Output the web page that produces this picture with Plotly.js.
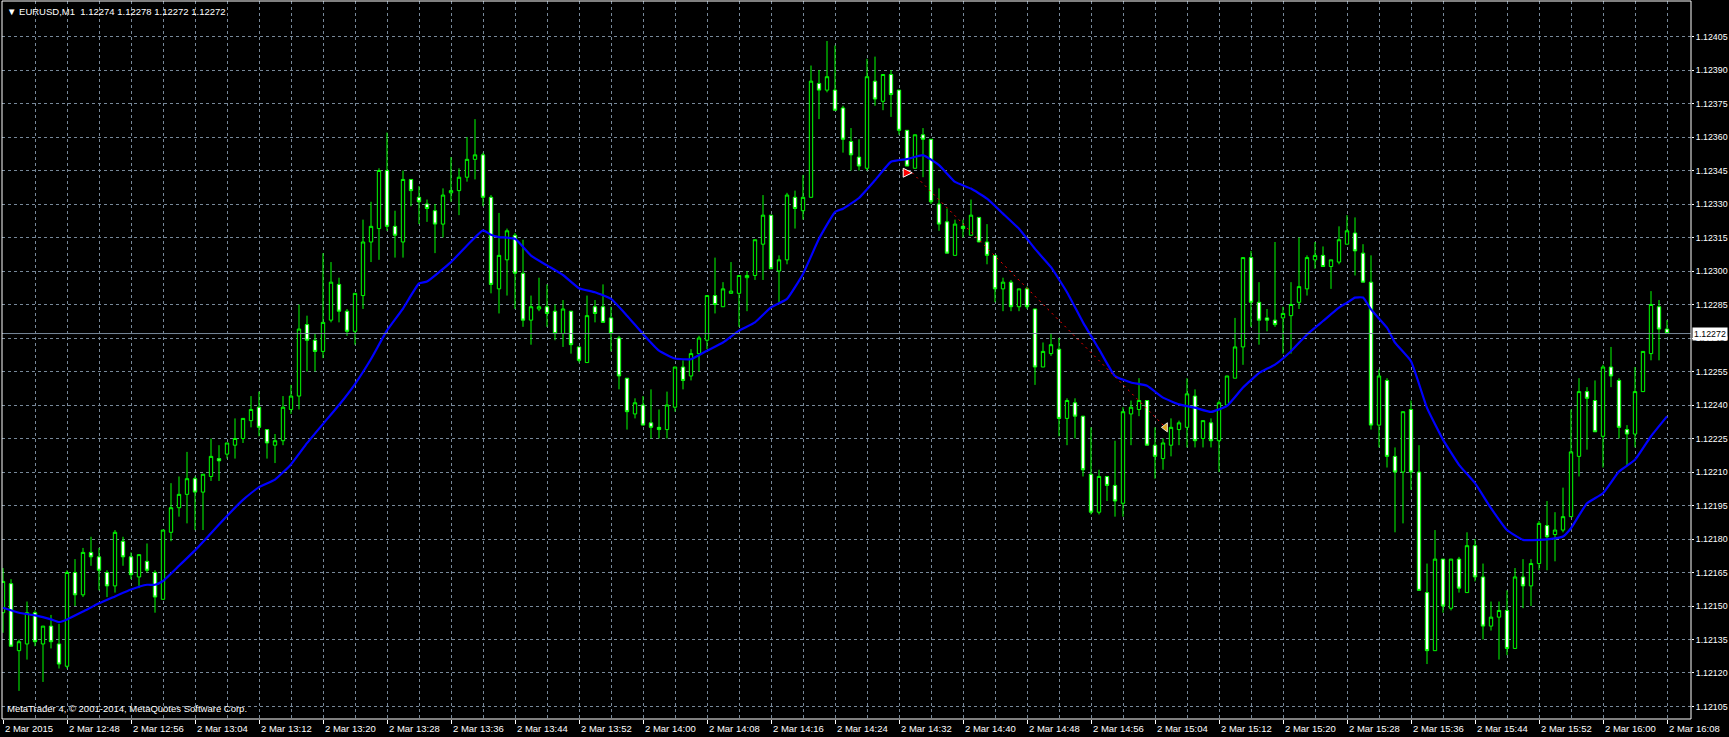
<!DOCTYPE html>
<html>
<head>
<meta charset="utf-8">
<script src="https://cdn.plot.ly/plotly-3.0.1.min.js"></script>
<style>
html,body{margin:0;padding:0;background:#000;overflow:hidden}
#chart{width:1729px;height:737px}
</style>
</head>
<body>
<div id="chart"></div>
<script>
// ---------------- DATA ----------------
const symbolName = "EURUSD,M1";
const lastQuote = ["1.12274", "1.12278", "1.12272", "1.12272"];
const copyrightText = "MetaTrader 4, © 2001-2014, MetaQuotes Software Corp.";
const currentPrice = 1.12272;

// one-minute bars from 2 Mar 2015 12:40 to 16:08
const openPrice = [
1.12147,1.12160,1.12130,1.12133,1.12147,1.12133,1.12141,1.12133,1.12123,1.12165,
1.12155,1.12174,1.12172,1.12165,1.12159,1.12179,1.12172,1.12163,1.12170,1.12165,
1.12153,1.12183,1.12194,1.12200,1.12207,1.12201,1.12208,1.12216,1.12218,1.12222,
1.12225,1.12233,1.12239,1.12229,1.12222,1.12224,1.12238,1.12244,1.12276,1.12269,
1.12264,1.12278,1.12294,1.12282,1.12273,1.12289,1.12313,1.12319,1.12345,1.12320,
1.12313,1.12341,1.12333,1.12330,1.12327,1.12321,1.12335,1.12336,1.12342,1.12350,
1.12352,1.12333,1.12292,1.12305,1.12316,1.12299,1.12278,1.12283,1.12284,1.12282,
1.12272,1.12282,1.12266,1.12259,1.12284,1.12284,1.12279,1.12270,1.12252,1.12236,
1.12240,1.12232,1.12230,1.12229,1.12239,1.12257,1.12253,1.12263,1.12269,1.12289,
1.12284,1.12290,1.12290,1.12297,1.12298,1.12312,1.12325,1.12300,1.12305,1.12333,
1.12327,1.12333,1.12384,1.12381,1.12381,1.12373,1.12358,1.12351,1.12346,1.12385,
1.12376,1.12388,1.12381,1.12363,1.12346,1.12361,1.12359,1.12330,1.12322,1.12307,
1.12320,1.12316,1.12324,1.12313,1.12307,1.12292,1.12295,1.12284,1.12292,1.12283,
1.12257,1.12263,1.12265,1.12234,1.12241,1.12235,1.12209,1.12192,1.12208,1.12204,
1.12196,1.12236,1.12238,1.12242,1.12222,1.12216,1.12222,1.12229,1.12230,1.12244,
1.12225,1.12232,1.12224,1.12240,1.12252,1.12266,1.12306,1.12286,1.12279,1.12278,
1.12279,1.12280,1.12286,1.12292,1.12305,1.12307,1.12302,1.12304,1.12312,1.12317,
1.12308,1.12295,1.12231,1.12251,1.12217,1.12210,1.12238,1.12210,1.12156,1.12130,
1.12171,1.12149,1.12171,1.12156,1.12177,1.12163,1.12141,1.12145,1.12148,1.12131,
1.12163,1.12159,1.12169,1.12186,1.12182,1.12184,1.12190,1.12217,1.12246,1.12242,
1.12226,1.12257,1.12251,1.12229,1.12227,1.12246,1.12263,1.12284,1.12274];

const highPrice = [
1.12167,1.12162,1.12135,1.12152,1.12148,1.12141,1.12146,1.12142,1.12166,1.12171,
1.12176,1.12181,1.12176,1.12166,1.12184,1.12181,1.12174,1.12173,1.12178,1.12166,
1.12184,1.12205,1.12208,1.12219,1.12208,1.12209,1.12225,1.12222,1.12223,1.12234,
1.12234,1.12244,1.12246,1.12229,1.12227,1.12244,1.12249,1.12285,1.12280,1.12272,
1.12308,1.12304,1.12297,1.12283,1.12290,1.12323,1.12331,1.12346,1.12362,1.12327,
1.12345,1.12341,1.12338,1.12332,1.12330,1.12337,1.12351,1.12346,1.12360,1.12368,
1.12353,1.12334,1.12326,1.12319,1.12317,1.12314,1.12289,1.12297,1.12294,1.12285,
1.12287,1.12282,1.12266,1.12289,1.12287,1.12294,1.12284,1.12271,1.12252,1.12243,
1.12244,1.12247,1.12238,1.12246,1.12257,1.12260,1.12265,1.12271,1.12289,1.12306,
1.12295,1.12304,1.12298,1.12300,1.12314,1.12334,1.12325,1.12307,1.12335,1.12336,
1.12343,1.12392,1.12390,1.12403,1.12401,1.12374,1.12364,1.12359,1.12395,1.12396,
1.12388,1.12390,1.12381,1.12363,1.12361,1.12364,1.12359,1.12337,1.12328,1.12323,
1.12323,1.12332,1.12324,1.12321,1.12307,1.12297,1.12296,1.12292,1.12293,1.12283,
1.12268,1.12272,1.12270,1.12243,1.12243,1.12235,1.12230,1.12211,1.12208,1.12224,
1.12239,1.12242,1.12252,1.12242,1.12230,1.12225,1.12234,1.12233,1.12252,1.12247,
1.12233,1.12234,1.12242,1.12253,1.12279,1.12306,1.12309,1.12295,1.12283,1.12313,
1.12284,1.12295,1.12315,1.12307,1.12313,1.12311,1.12305,1.12320,1.12325,1.12324,
1.12312,1.12307,1.12256,1.12252,1.12221,1.12237,1.12242,1.12222,1.12169,1.12184,
1.12171,1.12171,1.12172,1.12183,1.12180,1.12169,1.12152,1.12152,1.12157,1.12167,
1.12171,1.12171,1.12188,1.12197,1.12192,1.12203,1.12238,1.12252,1.12248,1.12251,
1.12258,1.12266,1.12252,1.12231,1.12257,1.12264,1.12291,1.12287,1.12278];

const lowPrice = [
1.12138,1.12132,1.12112,1.12126,1.12132,1.12116,1.12131,1.12122,1.12122,1.12150,
1.12154,1.12168,1.12157,1.12154,1.12156,1.12168,1.12162,1.12158,1.12165,1.12147,
1.12153,1.12179,1.12190,1.12187,1.12184,1.12184,1.12206,1.12206,1.12216,1.12216,
1.12223,1.12230,1.12226,1.12216,1.12214,1.12222,1.12236,1.12238,1.12255,1.12255,
1.12261,1.12277,1.12277,1.12271,1.12267,1.12283,1.12304,1.12305,1.12318,1.12306,
1.12306,1.12329,1.12321,1.12322,1.12308,1.12315,1.12331,1.12325,1.12340,1.12341,
1.12329,1.12290,1.12281,1.12289,1.12283,1.12275,1.12267,1.12282,1.12275,1.12269,
1.12266,1.12263,1.12259,1.12259,1.12277,1.12277,1.12264,1.12247,1.12229,1.12234,
1.12231,1.12225,1.12225,1.12225,1.12237,1.12247,1.12251,1.12255,1.12265,1.12281,
1.12284,1.12290,1.12275,1.12282,1.12296,1.12296,1.12301,1.12286,1.12303,1.12319,
1.12323,1.12333,1.12368,1.12380,1.12372,1.12353,1.12345,1.12345,1.12345,1.12374,
1.12372,1.12369,1.12361,1.12347,1.12346,1.12342,1.12330,1.12318,1.12308,1.12307,
1.12315,1.12316,1.12313,1.12303,1.12286,1.12282,1.12282,1.12282,1.12283,1.12249,
1.12257,1.12262,1.12226,1.12222,1.12225,1.12208,1.12191,1.12191,1.12197,1.12190,
1.12190,1.12222,1.12235,1.12222,1.12207,1.12211,1.12217,1.12222,1.12221,1.12221,
1.12221,1.12221,1.12210,1.12240,1.12252,1.12258,1.12275,1.12267,1.12273,1.12275,
1.12263,1.12263,1.12283,1.12289,1.12301,1.12302,1.12292,1.12303,1.12312,1.12298,
1.12295,1.12229,1.12221,1.12212,1.12183,1.12187,1.12202,1.12157,1.12124,1.12130,
1.12147,1.12148,1.12156,1.12156,1.12161,1.12135,1.12139,1.12126,1.12128,1.12131,
1.12149,1.12150,1.12166,1.12166,1.12170,1.12183,1.12190,1.12208,1.12220,1.12228,
1.12212,1.12248,1.12225,1.12213,1.12221,1.12246,1.12260,1.12260,1.12272];

const closePrice = [
1.12161,1.12132,1.12134,1.12147,1.12134,1.12141,1.12134,1.12124,1.12165,1.12155,
1.12174,1.12172,1.12166,1.12159,1.12183,1.12172,1.12164,1.12173,1.12166,1.12154,
1.12184,1.12194,1.12200,1.12207,1.12201,1.12209,1.12217,1.12215,1.12223,1.12225,
1.12234,1.12238,1.12230,1.12223,1.12224,1.12239,1.12244,1.12274,1.12269,1.12264,
1.12277,1.12295,1.12282,1.12273,1.12290,1.12313,1.12320,1.12345,1.12320,1.12316,
1.12341,1.12336,1.12331,1.12328,1.12321,1.12334,1.12336,1.12342,1.12350,1.12352,
1.12333,1.12294,1.12307,1.12318,1.12299,1.12278,1.12284,1.12284,1.12281,1.12272,
1.12283,1.12267,1.12260,1.12280,1.12281,1.12277,1.12272,1.12253,1.12237,1.12241,
1.12231,1.12230,1.12229,1.12240,1.12257,1.12251,1.12263,1.12270,1.12289,1.12285,
1.12292,1.12291,1.12298,1.12298,1.12314,1.12325,1.12301,1.12305,1.12334,1.12328,
1.12333,1.12385,1.12381,1.12387,1.12372,1.12359,1.12352,1.12347,1.12387,1.12377,
1.12388,1.12379,1.12363,1.12347,1.12361,1.12359,1.12331,1.12321,1.12308,1.12321,
1.12319,1.12325,1.12313,1.12307,1.12292,1.12295,1.12284,1.12292,1.12284,1.12257,
1.12264,1.12267,1.12234,1.12242,1.12235,1.12211,1.12192,1.12208,1.12204,1.12197,
1.12237,1.12239,1.12242,1.12222,1.12217,1.12223,1.12230,1.12232,1.12245,1.12224,
1.12233,1.12224,1.12241,1.12253,1.12266,1.12306,1.12286,1.12278,1.12278,1.12276,
1.12281,1.12285,1.12293,1.12306,1.12307,1.12302,1.12305,1.12314,1.12318,1.12309,
1.12295,1.12231,1.12253,1.12217,1.12210,1.12237,1.12210,1.12157,1.12130,1.12171,
1.12150,1.12171,1.12158,1.12177,1.12163,1.12141,1.12145,1.12148,1.12131,1.12163,
1.12159,1.12169,1.12187,1.12181,1.12184,1.12190,1.12219,1.12246,1.12243,1.12228,
1.12257,1.12253,1.12230,1.12227,1.12246,1.12264,1.12285,1.12274,1.12272];

// moving average, bar index -> value
const maBar = [0,2,4,6,7,8,10,12,14,16,18,19,20,22,24,26,28,30,32,34,36,38,40,42,44,46,48,50,52,53,
56,58,60,61,62,64,66,68,70,72,74,76,78,80,82,84,86,88,90,92,94,96,98,100,102,104,105,107,109,111,
113,115,117,119,121,123,125,127,129,131,133,135,137,139,141,143,145,147,149,151,153,155,157,159,161,
163,165,167,168,169,170,171,173,174,176,178,180,182,184,186,188,190,192,194,195,196,198,200,202,204,206,208];
const maValue = [1.121492,1.12147,1.121458,1.12144,1.121428,1.12144,1.121475,1.121512,1.121543,1.121574,
1.121595,1.121595,1.121612,1.12168,1.121749,1.121826,1.121903,1.121975,1.122032,1.122066,1.122134,1.122229,
1.122315,1.1224,1.122494,1.122606,1.122734,1.122832,1.122944,1.122953,1.12304,1.123114,1.123182,1.123162,
1.123152,1.123144,1.123069,1.123025,1.122982,1.122923,1.122905,1.122875,1.1228,1.122718,1.122643,1.122608,
1.122605,1.122643,1.12268,1.122733,1.12277,1.122837,1.122875,1.122987,1.123144,1.123264,1.123279,1.123327,
1.123406,1.123489,1.123501,1.123519,1.123474,1.123399,1.123369,1.123324,1.123257,1.123189,1.123099,1.123017,
1.122905,1.12277,1.12265,1.12253,1.122501,1.122486,1.122433,1.122403,1.122388,1.122369,1.122396,1.122478,
1.122543,1.122581,1.122641,1.122716,1.122776,1.122836,1.122858,1.122881,1.122881,1.122828,1.122746,1.122679,
1.122596,1.122387,1.122245,1.122132,1.12205,1.121938,1.12184,1.121796,1.121796,1.121803,1.121811,1.121848,
1.12196,1.122005,1.122102,1.122155,1.12226,1.122349];

// trade: open arrow -> close marker
const tradeBar = [114, 145];
const tradePrice = [1.12344, 1.12230];

// axis labels
const timeTickBar = [0,8,16,24,32,40,48,56,64,72,80,88,96,104,112,120,128,136,144,152,160,168,176,184,192,200,208];
const timeTickText = ["2 Mar 2015","2 Mar 12:48","2 Mar 12:56","2 Mar 13:04","2 Mar 13:12","2 Mar 13:20",
"2 Mar 13:28","2 Mar 13:36","2 Mar 13:44","2 Mar 13:52","2 Mar 14:00","2 Mar 14:08","2 Mar 14:16",
"2 Mar 14:24","2 Mar 14:32","2 Mar 14:40","2 Mar 14:48","2 Mar 14:56","2 Mar 15:04","2 Mar 15:12",
"2 Mar 15:20","2 Mar 15:28","2 Mar 15:36","2 Mar 15:44","2 Mar 15:52","2 Mar 16:00","2 Mar 16:08"];
const gridMinorBar = [4,12,20,28,36,44,52,60,68,76,84,92,100,108,116,124,132,140,148,156,164,172,180,188,196,204];
const priceTicks = [1.12105,1.12120,1.12135,1.12150,1.12165,1.12180,1.12195,1.12210,1.12225,1.12240,
1.12255,1.12270,1.12285,1.12300,1.12315,1.12330,1.12345,1.12360,1.12375,1.12390,1.12405];

// ---------------- STYLE ----------------
const FONT = "Liberation Sans, Arial, sans-serif";
const FS = 9.5;
const FS_Y = 8.8;
const GRID = "#778899";
const CANDLE_LINE = "#00ff00";
const arrowShift = {open: -0.35, close: 0.3};

const barIndex = openPrice.map((_, i) => i);

const candles = {
  type: "candlestick",
  x: barIndex, open: openPrice, high: highPrice, low: lowPrice, close: closePrice,
  increasing: {line: {color: CANDLE_LINE, width: 1}, fillcolor: "#000000"},
  decreasing: {line: {color: CANDLE_LINE, width: 1}, fillcolor: "#ffffff"},
  whiskerwidth: 0,
  hoverinfo: "skip",
  showlegend: false
};

const ma = {
  type: "scatter", mode: "lines",
  x: maBar, y: maValue,
  line: {color: "#0000ff", width: 2.2, shape: "spline", smoothing: 0.4},
  hoverinfo: "skip", showlegend: false
};

const tradeLine = {
  type: "scatter", mode: "lines",
  x: [tradeBar[0] + arrowShift.open, tradeBar[1] + arrowShift.close], y: tradePrice,
  line: {color: "#ff0000", width: 1, dash: "2px,4px"},
  hoverinfo: "skip", showlegend: false
};
const tradeOpen = {
  type: "scatter", mode: "markers",
  x: [tradeBar[0] + arrowShift.open], y: [tradePrice[0]],
  marker: {symbol: "arrow-right", size: 9, color: "#ff0000", line: {color: "#ffffff", width: 1}},
  hoverinfo: "skip", showlegend: false
};
const tradeClose = {
  type: "scatter", mode: "markers",
  x: [tradeBar[1] + arrowShift.close], y: [tradePrice[1]],
  marker: {symbol: "triangle-left", size: 8, color: "#daa520", line: {color: "#ffffff", width: 0.8}},
  hoverinfo: "skip", showlegend: false
};

const annotations = timeTickBar.map((b, i) => ({
  x: b, y: 0, xref: "x", yref: "paper",
  text: timeTickText[i], showarrow: false,
  xanchor: "left", yanchor: "top", xshift: 0, yshift: -2,
  font: {family: FONT, size: FS, color: "#ffffff"}
}));
annotations.push({
  x: 0, y: 1, xref: "paper", yref: "paper", xanchor: "left", yanchor: "top",
  xshift: 3, yshift: -3, showarrow: false,
  text: "▼ " + symbolName + "  " + lastQuote.join(" "),
  font: {family: FONT, size: FS, color: "#ffffff"}
});
annotations.push({
  x: 0, y: 0, xref: "paper", yref: "paper", xanchor: "left", yanchor: "bottom",
  xshift: 3, yshift: 3, showarrow: false,
  text: copyrightText,
  font: {family: FONT, size: FS, color: "#ffffff"}
});
annotations.push({
  x: 1, y: currentPrice, xref: "paper", yref: "y", xanchor: "left", yanchor: "middle",
  xshift: 1, showarrow: false, text: currentPrice.toFixed(5),
  bgcolor: "#ffffff", borderpad: 1,
  font: {family: FONT, size: FS_Y, color: "#000000"}
});

const layout = {
  width: 1729, height: 737, autosize: false,
  paper_bgcolor: "#000000", plot_bgcolor: "#000000",
  margin: {l: 2, r: 38, t: 1, b: 18, pad: 0},
  boxgap: 0.4,
  showlegend: false,
  xaxis: {
    type: "linear", range: [-0.125, 211.0], fixedrange: true,
    rangeslider: {visible: false},
    tickmode: "array", tickvals: timeTickBar, showticklabels: false,
    ticks: "outside", ticklen: 4, tickcolor: "#ffffff", tickwidth: 1,
    showgrid: true, gridcolor: GRID, gridwidth: 1, griddash: "dot",
    minor: {tickmode: "array", tickvals: gridMinorBar, showgrid: true, gridcolor: GRID, griddash: "dot", ticks: ""},
    zeroline: false, showline: false
  },
  yaxis: {
    side: "right", range: [1.120994, 1.124209], fixedrange: true,
    tickmode: "array", tickvals: priceTicks, ticktext: priceTicks.map(v => v.toFixed(5)),
    ticks: "outside", ticklen: 2, tickcolor: "#ffffff", tickwidth: 1,
    ticklabelstandoff: 0,
    tickfont: {family: FONT, size: FS_Y, color: "#ffffff"},
    showgrid: true, gridcolor: GRID, gridwidth: 1, griddash: "dot",
    zeroline: false, showline: false
  },
  shapes: [
    {type: "line", xref: "paper", yref: "y", x0: 0, x1: 1, y0: currentPrice, y1: currentPrice,
     line: {color: GRID, width: 1}},
    {type: "rect", xref: "paper", yref: "paper", x0: 0, x1: 1, y0: 0, y1: 1,
     line: {color: "#ffffff", width: 1}, layer: "above"}
  ],
  annotations: annotations
};

Plotly.newPlot("chart", [candles, ma, tradeLine, tradeOpen, tradeClose], layout,
  {displayModeBar: false, staticPlot: true});
</script>
</body>
</html>
